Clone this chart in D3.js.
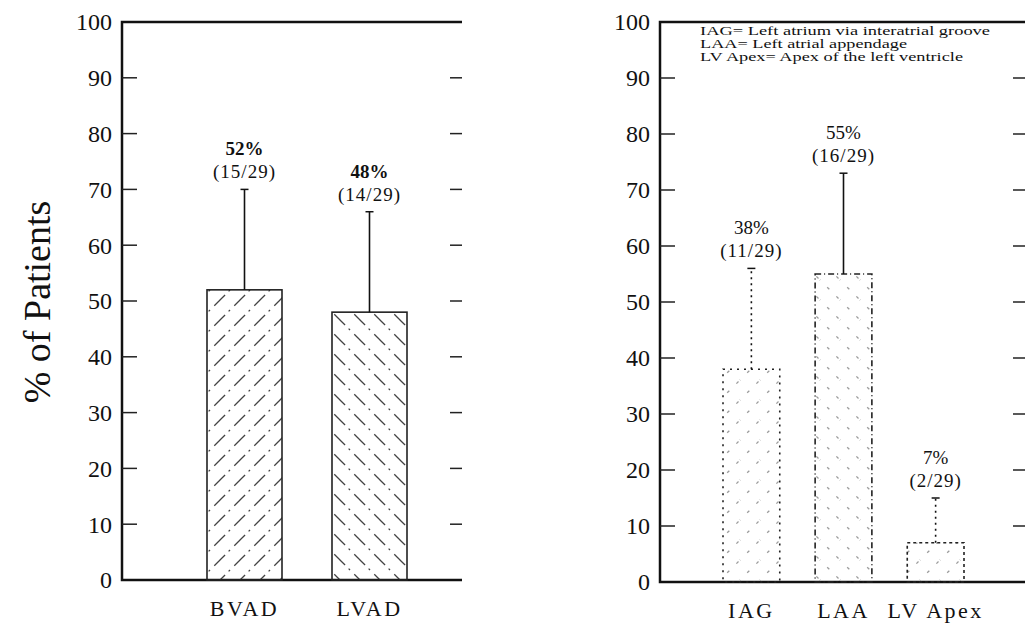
<!DOCTYPE html>
<html lang="en">
<head>
<meta charset="UTF-8">
<title>% of Patients by device and cannulation site</title>
<script src="https://d3js.org/d3.v7.min.js"></script>
<style>
    body { margin: 0; background: #fff; }
    text { font-family: "Liberation Serif", "DejaVu Serif", serif; fill: #111; }
    .frame { stroke: #111; stroke-width: 2.5px; fill: none; }
    .tick { stroke: #222; stroke-width: 1.5px; }
</style>
</head>
<body>
<svg width="1025" height="624"></svg>
<script>
    // left panel: device type
    const devices = ["BVAD", "LVAD"];
    const devicePct = [52, 48];
    const deviceErr = [70, 66];
    const deviceLabel = ["(15/29)", "(14/29)"];

    // right panel: cannulation site
    const sites = ["IAG", "LAA", "LV Apex"];
    const sitePct = [38, 55, 7];
    const siteErr = [56, 73, 15];
    const siteLabel = ["(11/29)", "(16/29)", "(2/29)"];

    const legendLines = [
        "IAG= Left atrium via interatrial groove",
        "LAA= Left atrial appendage",
        "LV Apex= Apex of the left ventricle"
    ];

    const yTicks = d3.range(0, 101, 10);

    const svg = d3.select("svg");
    const defs = svg.append("defs");

    // hatch patterns, dashed to look like the old print
    function hatch(id, dir, dash, op) {
        const p = defs.append("pattern")
            .attr("id", id)
            .attr("patternUnits", "userSpaceOnUse")
            .attr("width", 20).attr("height", 20);
        const d = dir > 0 ? "M-2,22 L22,-2 M-2,2 L2,-2 M18,22 L22,18"
                          : "M-2,-2 L22,22 M18,-2 L22,2 M-2,18 L2,22";
        p.append("path").attr("d", d)
            .attr("stroke", "#222").attr("stroke-width", 1.3)
            .attr("stroke-opacity", op)
            .attr("stroke-dasharray", dash);
    }
    hatch("hatchR", 1, "10,5,2,6", 0.85);
    hatch("hatchL", -1, "10,5,2,6", 0.85);
    hatch("hatchRf", 1, "3,10", 0.45);
    hatch("hatchLf", -1, "3,10", 0.45);

    function panel(o) {
        const g = svg.append("g");
        const y = d3.scaleLinear().domain([0, 100]).range([o.bottom, o.top]);
        const x = d3.scaleBand().domain(o.cats).range(o.barRange)
            .paddingInner(o.padIn).paddingOuter(0);

        // frame (left, top, bottom)
        g.append("path").attr("class", "frame")
            .attr("d", `M${o.right},${o.top} H${o.left} V${o.bottom} H${o.right}`);

        // ticks on both sides
        g.selectAll(".tl").data(yTicks.slice(1, -1)).join("line")
            .attr("class", "tick")
            .attr("x1", o.left).attr("x2", o.left + 15)
            .attr("y1", d => y(d)).attr("y2", d => y(d));
        g.selectAll(".tr").data(yTicks.slice(1, -1)).join("line")
            .attr("class", "tick")
            .attr("x1", o.rightTick - 12).attr("x2", o.rightTick)
            .attr("y1", d => y(d)).attr("y2", d => y(d));

        g.selectAll(".yl").data(yTicks).join("text")
            .attr("x", o.left - 10).attr("y", d => y(d))
            .attr("dy", "0.35em").attr("text-anchor", "end")
            .attr("font-size", 24)
            .text(d => d);

        // bars
        const idx = d3.range(o.cats.length);
        g.selectAll(".bar").data(idx).join("rect")
            .attr("x", i => x(o.cats[i]))
            .attr("y", i => y(o.vals[i]))
            .attr("width", x.bandwidth())
            .attr("height", i => y(0) - y(o.vals[i]))
            .attr("fill", i => `url(#${o.fills[i]})`)
            .attr("stroke", "#222")
            .attr("stroke-width", 1.6)
            .attr("stroke-dasharray", i => o.outline[i]);

        // error bars
        const cx = i => x(o.cats[i]) + x.bandwidth() / 2;
        g.selectAll(".err").data(idx).join("line")
            .attr("x1", cx).attr("x2", cx)
            .attr("y1", i => y(o.vals[i])).attr("y2", i => y(o.errs[i]))
            .attr("stroke", "#111").attr("stroke-width", 1.6)
            .attr("stroke-dasharray", i => o.errDash[i]);
        g.selectAll(".cap").data(idx).join("line")
            .attr("x1", i => cx(i) - 4).attr("x2", i => cx(i) + 4)
            .attr("y1", i => y(o.errs[i])).attr("y2", i => y(o.errs[i]))
            .attr("stroke", "#111").attr("stroke-width", 1.5);

        // value labels
        g.selectAll(".pct").data(idx).join("text")
            .attr("x", cx).attr("y", i => y(o.errs[i]) - 34)
            .attr("text-anchor", "middle").attr("font-size", 19)
            .attr("font-weight", o.boldPct ? "bold" : "normal")
            .text(i => o.vals[i] + "%");
        g.selectAll(".frac").data(idx).join("text")
            .attr("x", cx).attr("y", i => y(o.errs[i]) - 11)
            .attr("text-anchor", "middle").attr("font-size", 19)
            .attr("letter-spacing", 1)
            .text(i => o.fracs[i]);

        // category labels
        g.selectAll(".cat").data(o.cats).join("text")
            .attr("x", d => x(d) + x.bandwidth() / 2)
            .attr("y", o.bottom + 36)
            .attr("text-anchor", "middle").attr("font-size", 22)
            .attr("letter-spacing", 2.5)
            .text(d => d);
        return g;
    }

    panel({
        cats: devices, vals: devicePct, errs: deviceErr, fracs: deviceLabel,
        left: 122, right: 462, rightTick: 462, top: 22, bottom: 580,
        barRange: [207, 407], padIn: 0.4,
        fills: ["hatchR", "hatchL"], outline: [null, null],
        errDash: [null, null], boldPct: true
    });

    panel({
        cats: sites, vals: sitePct, errs: siteErr, fracs: siteLabel,
        left: 660, right: 1025, rightTick: 1025, top: 22, bottom: 582,
        barRange: [723, 964], padIn: 0.384,
        fills: ["hatchRf", "hatchLf", "hatchRf"], outline: ["2,5", "6,3,1,3", "3,3"],
        errDash: ["2,4", null, "2,4"], boldPct: false
    });

    // legend text in right panel
    const legW = [290, 207, 263];
    svg.append("g").selectAll("text").data(legendLines).join("text")
        .attr("x", 700).attr("y", (d, i) => 35 + i * 13)
        .attr("font-size", 13)
        .attr("textLength", (d, i) => legW[i])
        .attr("lengthAdjust", "spacingAndGlyphs")
        .text(d => d);

    // y title
    svg.append("text")
        .attr("transform", "translate(50,302) rotate(-90)")
        .attr("text-anchor", "middle").attr("font-size", 38)
        .text("% of Patients");
</script>
</body>
</html>
